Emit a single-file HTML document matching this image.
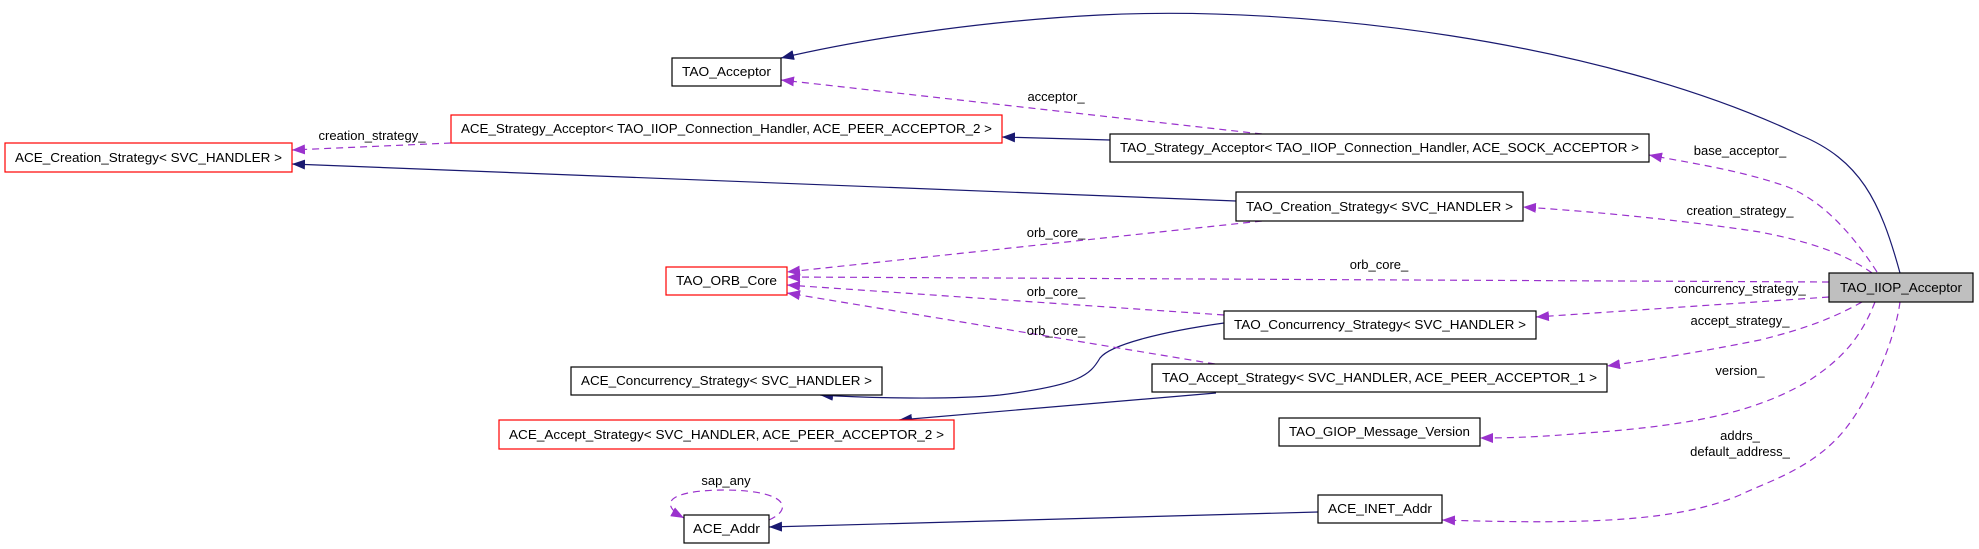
<!DOCTYPE html>
<html><head><meta charset="utf-8"><style>
html,body{margin:0;padding:0;background:#fff;}
svg{display:block;}
text{font-family:"Liberation Sans",sans-serif;font-size:13px;fill:#000;}
.b{fill:#fff;stroke:#000;stroke-width:1.2;}
.r{fill:#fff;stroke:#ff0000;stroke-width:1.2;}
.s{fill:none;stroke:#191970;stroke-width:1.2;}
.d{fill:none;stroke:#9a32cd;stroke-width:1.2;stroke-dasharray:7,5;}
</style></head><body>
<svg width="1979" height="549" viewBox="0 0 1979 549" xmlns="http://www.w3.org/2000/svg">
<defs>
<marker id="ms" markerUnits="userSpaceOnUse" markerWidth="14" markerHeight="10" refX="13" refY="5" orient="auto"><path d="M0,0 L13,5 L0,10 z" fill="#191970"/></marker>
<marker id="md" markerUnits="userSpaceOnUse" markerWidth="14" markerHeight="10" refX="13" refY="5" orient="auto"><path d="M0,0 L13,5 L0,10 z" fill="#9a32cd"/></marker>
</defs>
<!-- solid edges -->
<path class="s" marker-end="url(#ms)" d="M1900,273 C1880,200 1860,160 1800,135 C1600,40 1300,5 1100,15 C1000,20 880,35 781,58"/>
<path class="s" marker-end="url(#ms)" d="M1110,140 L1002,137"/>
<path class="s" marker-end="url(#ms)" d="M1236,201 L292,164"/>
<path class="s" marker-end="url(#ms)" d="M1224,323 C1160,332 1110,345 1100,358 C1090,375 1080,385 1000,395 C950,400 870,398 820,395"/>
<path class="s" marker-end="url(#ms)" d="M1216,393 L899,420"/>
<path class="s" marker-end="url(#ms)" d="M1318,512 L769,527"/>
<!-- dashed edges -->
<path class="d" marker-end="url(#md)" d="M1262,134 L781,80"/>
<path class="d" marker-end="url(#md)" d="M451,143 L292,150"/>
<path class="d" marker-end="url(#md)" d="M1877,272 C1850,230 1820,200 1788,187 C1740,170 1690,163 1649,155"/>
<path class="d" marker-end="url(#md)" d="M1872,273 C1840,250 1800,240 1760,232 C1680,220 1600,212 1523,207"/>
<path class="d" marker-end="url(#md)" d="M1829,282 L787,277"/>
<path class="d" marker-end="url(#md)" d="M1262,221 L787,272"/>
<path class="d" marker-end="url(#md)" d="M1224,315 L787,285"/>
<path class="d" marker-end="url(#md)" d="M1215,364 L787,293"/>
<path class="d" marker-end="url(#md)" d="M1829,297 L1536,317"/>
<path class="d" marker-end="url(#md)" d="M1862,302 C1830,320 1800,330 1760,340 C1700,352 1650,360 1607,366"/>
<path class="d" marker-end="url(#md)" d="M1875,302 C1860,340 1840,360 1810,380 C1760,410 1700,425 1586,433 C1540,437 1510,438 1480,438"/>
<path class="d" marker-end="url(#md)" d="M1900,302 C1895,340 1870,400 1842,433 C1810,470 1764,483 1740,495 C1680,520 1600,525 1442,520"/>
<path class="d" marker-end="url(#md)" d="M769,520 C792,510 790,491 727,490 C664,490 660,505 684,518"/>
<!-- edge labels -->
<g text-anchor="middle">
<text x="372" y="140">creation_strategy_</text>
<text x="1056" y="101">acceptor_</text>
<text x="1056" y="237">orb_core_</text>
<text x="1740" y="155">base_acceptor_</text>
<text x="1740" y="215">creation_strategy_</text>
<text x="1379" y="269">orb_core_</text>
<text x="1740" y="293">concurrency_strategy_</text>
<text x="1056" y="296">orb_core_</text>
<text x="1740" y="325">accept_strategy_</text>
<text x="1056" y="335">orb_core_</text>
<text x="1740" y="375">version_</text>
<text x="1740" y="440">addrs_</text>
<text x="1740" y="456">default_address_</text>
<text x="726" y="485">sap_any</text>
</g>
<!-- nodes -->
<rect class="b" x="672" y="58" width="109" height="28"/>
<rect class="r" x="451" y="115" width="551" height="28"/>
<rect class="r" x="5" y="143" width="287" height="29"/>
<rect class="b" x="1110" y="134" width="539" height="28"/>
<rect class="b" x="1236" y="192" width="287" height="29"/>
<rect class="r" x="666" y="267" width="121" height="28"/>
<rect x="1829" y="273" width="144" height="29" fill="#bfbfbf" stroke="#000" stroke-width="1.2"/>
<rect class="b" x="1224" y="311" width="312" height="28"/>
<rect class="b" x="571" y="367" width="311" height="28"/>
<rect class="b" x="1152" y="364" width="455" height="28"/>
<rect class="r" x="499" y="420" width="455" height="29"/>
<rect class="b" x="1279" y="418" width="201" height="28"/>
<rect class="b" x="1318" y="495" width="124" height="28"/>
<rect class="b" x="684" y="515" width="85" height="28"/>
<g text-anchor="middle" lengthAdjust="spacingAndGlyphs">
<text x="726.5" y="76" textLength="89" lengthAdjust="spacingAndGlyphs">TAO_Acceptor</text>
<text x="726.5" y="133" textLength="531" lengthAdjust="spacingAndGlyphs">ACE_Strategy_Acceptor&lt; TAO_IIOP_Connection_Handler, ACE_PEER_ACCEPTOR_2 &gt;</text>
<text x="148.5" y="162" textLength="267" lengthAdjust="spacingAndGlyphs">ACE_Creation_Strategy&lt; SVC_HANDLER &gt;</text>
<text x="1379.5" y="152" textLength="519" lengthAdjust="spacingAndGlyphs">TAO_Strategy_Acceptor&lt; TAO_IIOP_Connection_Handler, ACE_SOCK_ACCEPTOR &gt;</text>
<text x="1379.5" y="211" textLength="267" lengthAdjust="spacingAndGlyphs">TAO_Creation_Strategy&lt; SVC_HANDLER &gt;</text>
<text x="726.5" y="285" textLength="101" lengthAdjust="spacingAndGlyphs">TAO_ORB_Core</text>
<text x="1901" y="292" textLength="122" lengthAdjust="spacingAndGlyphs">TAO_IIOP_Acceptor</text>
<text x="1380" y="329" textLength="292" lengthAdjust="spacingAndGlyphs">TAO_Concurrency_Strategy&lt; SVC_HANDLER &gt;</text>
<text x="726.5" y="385" textLength="291" lengthAdjust="spacingAndGlyphs">ACE_Concurrency_Strategy&lt; SVC_HANDLER &gt;</text>
<text x="1379.5" y="382" textLength="435" lengthAdjust="spacingAndGlyphs">TAO_Accept_Strategy&lt; SVC_HANDLER, ACE_PEER_ACCEPTOR_1 &gt;</text>
<text x="726.5" y="439" textLength="435" lengthAdjust="spacingAndGlyphs">ACE_Accept_Strategy&lt; SVC_HANDLER, ACE_PEER_ACCEPTOR_2 &gt;</text>
<text x="1379.5" y="436" textLength="181" lengthAdjust="spacingAndGlyphs">TAO_GIOP_Message_Version</text>
<text x="1380" y="513" textLength="104" lengthAdjust="spacingAndGlyphs">ACE_INET_Addr</text>
<text x="726.5" y="533" textLength="67" lengthAdjust="spacingAndGlyphs">ACE_Addr</text>
</g>
</svg>
</body></html>
